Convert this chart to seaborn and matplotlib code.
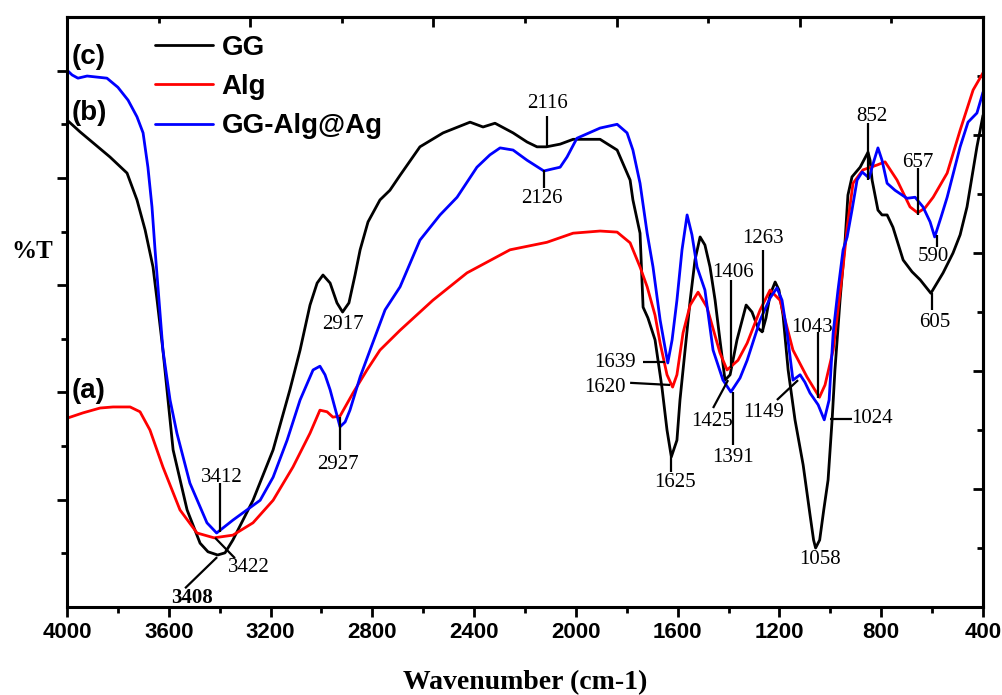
import numpy as np
import pandas as pd
import matplotlib
matplotlib.use("Agg")
import matplotlib.pyplot as plt
from matplotlib import font_manager
from matplotlib.ticker import MultipleLocator, FixedLocator, NullFormatter
import seaborn as sns

# GG (curve b)
gg_wn = [4000, 3949, 3831, 3764, 3725, 3693, 3662, 3646, 3623, 3583, 3528, 3477, 3446, 3408,
         3379, 3348, 3269, 3190, 3124, 3084, 3045, 3017, 2994, 2966, 2939, 2917, 2892, 2868,
         2848, 2817, 2770, 2731, 2691, 2613, 2522, 2416, 2365, 2318, 2247, 2192, 2153, 2116,
         2062, 2011, 1905, 1838, 1787, 1776, 1748, 1736, 1717, 1689, 1662, 1642, 1625, 1603,
         1591, 1571, 1551, 1532, 1512, 1493, 1473, 1453, 1434, 1414, 1394, 1367, 1331, 1308,
         1284, 1268, 1253, 1237, 1217, 1202, 1186, 1166, 1139, 1107, 1080, 1066, 1058, 1042,
         1026, 1009, 993, 982, 962, 942, 931, 915, 883, 852, 844, 836, 813, 797, 777, 754,
         714, 679, 647, 605, 557, 518, 490, 463, 424, 400]
gg_t = [90.8, 88.6, 83.9, 80.9, 75.9, 70.3, 63.4, 57.2, 47.9, 29.3, 18.1, 11.9, 10.3, 9.7,
        10.1, 12.5, 19.9, 29.3, 40.5, 47.9, 56.3, 60.4, 61.9, 60.4, 56.7, 55.0, 56.7, 61.9,
        66.6, 71.8, 75.9, 77.7, 80.5, 85.8, 88.4, 90.4, 89.5, 90.2, 88.4, 86.7, 85.8, 85.8,
        86.3, 87.2, 87.2, 85.2, 79.6, 75.9, 69.7, 55.9, 53.9, 49.8, 41.0, 33.0, 28.0, 31.1,
        38.6, 47.9, 57.2, 64.7, 69.0, 67.5, 63.4, 57.2, 49.8, 42.3, 43.3, 49.8, 56.3, 55.0,
        52.0, 51.3, 53.9, 58.2, 60.6, 59.1, 54.4, 44.2, 34.9, 26.5, 17.2, 12.5, 11.0, 12.5,
        18.1, 23.7, 35.0, 44.2, 57.2, 68.4, 76.8, 80.2, 82.0, 84.8, 83.3, 79.6, 74.0, 73.1,
        73.1, 70.8, 64.7, 62.5, 61.0, 58.5, 62.3, 66.0, 69.4, 74.6, 85.8, 91.7]

# Alg (curve a)
alg_wn = [4000, 3937, 3870, 3819, 3752, 3713, 3674, 3623, 3556, 3489, 3422, 3348, 3269, 3190,
          3112, 3045, 3006, 2978, 2955, 2927, 2876, 2821, 2770, 2691, 2562, 2428, 2259, 2114,
          2011, 1905, 1838, 1787, 1748, 1720, 1689, 1669, 1642, 1620, 1603, 1579, 1551, 1520,
          1485, 1434, 1406, 1363, 1327, 1276, 1237, 1198, 1147, 1092, 1043, 1021, 989, 950,
          934, 911, 872, 817, 785, 738, 687, 657, 628, 596, 541, 490, 439, 400]
alg_t = [35.2, 36.2, 37.1, 37.3, 37.3, 36.4, 33.0, 26.1, 18.1, 13.8, 12.9, 13.4, 15.7, 19.9,
         26.1, 32.4, 36.7, 36.4, 35.4, 35.6, 39.9, 44.2, 47.9, 51.6, 57.2, 62.3, 66.6, 68.0,
         69.7, 70.1, 69.9, 67.9, 63.4, 59.7, 54.4, 49.2, 43.3, 41.0, 43.3, 51.1, 56.3, 58.7,
         55.9, 47.4, 44.2, 46.0, 49.2, 55.4, 59.1, 57.2, 47.9, 42.9, 39.1, 41.4, 47.9, 63.4,
         70.8, 79.0, 81.5, 82.4, 83.0, 79.6, 74.6, 73.5, 74.4, 76.4, 80.9, 88.9, 96.4, 99.6]

# GG-Alg@Ag (curve c)
ag_wn = [4000, 3980, 3957, 3921, 3843, 3800, 3760, 3725, 3701, 3682, 3666, 3654, 3623, 3595,
         3568, 3517, 3450, 3412, 3348, 3293, 3241, 3190, 3135, 3084, 3033, 3006, 2986, 2966,
         2927, 2907, 2888, 2848, 2809, 2750, 2691, 2613, 2534, 2467, 2389, 2338, 2298, 2247,
         2192, 2126, 2090, 2062, 2035, 1996, 1905, 1838, 1799, 1776, 1748, 1720, 1697, 1669,
         1639, 1622, 1603, 1583, 1563, 1544, 1524, 1493, 1461, 1422, 1391, 1355, 1327, 1276,
         1237, 1210, 1190, 1170, 1147, 1119, 1100, 1080, 1048, 1024, 1005, 989, 970, 950,
         934, 915, 895, 875, 848, 828, 813, 797, 777, 746, 699, 667, 636, 608, 590, 565,
         541, 490, 459, 424, 400]
ag_t = [100.1, 99.2, 98.6, 99.0, 98.6, 96.9, 94.5, 91.4, 88.4, 82.0, 74.6, 66.6, 47.9, 38.6,
        32.4, 23.1, 15.7, 13.8, 16.2, 18.1, 19.9, 24.2, 31.1, 38.6, 44.2, 44.9, 43.3, 40.5,
        33.6, 34.5, 36.7, 42.9, 47.9, 55.4, 59.7, 68.4, 73.1, 76.4, 82.0, 84.3, 85.6, 85.2,
        83.3, 81.3, 81.7, 82.0, 83.9, 87.4, 89.3, 90.0, 88.4, 85.2, 79.0, 69.7, 63.4, 53.5,
        45.5, 49.8, 57.2, 66.6, 73.1, 69.4, 63.4, 59.1, 47.9, 42.3, 40.1, 42.7, 46.0, 53.5,
        57.6, 59.5, 57.2, 51.1, 42.3, 43.3, 41.9, 39.9, 37.7, 34.9, 38.6, 51.1, 59.1, 66.6,
        69.0, 74.0, 79.6, 81.1, 80.0, 83.3, 85.6, 83.3, 79.0, 77.7, 76.2, 76.4, 74.6, 71.8,
        69.0, 72.7, 76.4, 85.8, 90.4, 92.1, 96.0]

series_names = ["GG", "Alg", "GG-Alg@Ag"]
series_colors = ["black", "red", "blue"]

# peak labels
peak_labels = ["3408", "3422", "3412", "2927", "2917", "2116", "2126", "1639", "1620", "1625",
               "1406", "1425", "1391", "1263", "1149", "1043", "1058", "1024", "852", "657",
               "590", "605"]
peak_text_x = [3509, 3285, 3391, 2935, 2915, 2110, 2133, 1846, 1886, 1610, 1383, 1465, 1383,
               1265, 1261, 1072, 1041, 836, 836, 655, 596, 589]
peak_text_y = [1.7, 7.3, 24.2, 26.5, 52.6, 93.8, 76.1, 45.5, 41.0, 23.3, 62.3, 34.5, 27.8,
               68.8, 36.2, 52.2, 8.8, 35.2, 91.4, 82.8, 65.3, 53.1]
leader_x0 = [3410, 3418, 3399, 2927, np.nan, 2114, 2126, 1736, 1787, 1625, 1390, 1461, 1383,
             1265, 1210, 1048, np.nan, 1001, 852, 655, 581, 600]
leader_y0 = [9.3, 12.9, 23.1, 35.4, np.nan, 91.5, 81.5, 45.7, 41.8, 28.0, 61.0, 37.1, 40.1,
             66.6, 38.6, 51.3, np.nan, 35.0, 90.2, 81.8, 69.4, 58.5]
leader_x1 = [3536, 3340, 3399, 2927, np.nan, 2114, 2126, 1650, 1630, 1625, 1390, 1402, 1383,
             1265, 1127, 1048, np.nan, 915, 852, 655, 581, 600]
leader_y1 = [3.5, 9.1, 14.0, 29.3, np.nan, 85.9, 78.1, 45.7, 41.4, 25.2, 44.6, 42.3, 30.2,
             51.3, 42.3, 39.0, np.nan, 35.0, 79.6, 73.1, 67.1, 55.4]

curve_tags = ["(c)", "(b)", "(a)"]
curve_tag_y = [102.5, 92.1, 40.3]

sns.set_style("ticks")
installed = set(font_manager.get_font_names())
tick_font = "Liberation Sans Narrow" if "Liberation Sans Narrow" in installed else "Liberation Sans"
plt.rcParams['font.family'] = ['Liberation Sans', 'DejaVu Sans']
for key in ["text.color", "axes.labelcolor", "xtick.color", "ytick.color", "axes.edgecolor"]:
    plt.rcParams[key] = "black"

df = pd.concat([
    pd.DataFrame({"wn": gg_wn, "T": gg_t, "sample": "GG"}),
    pd.DataFrame({"wn": alg_wn, "T": alg_t, "sample": "Alg"}),
    pd.DataFrame({"wn": ag_wn, "T": ag_t, "sample": "GG-Alg@Ag"}),
], ignore_index=True)

fig = plt.figure(figsize=(10.03, 6.95), dpi=100)
ax = fig.add_axes([0.0668, 0.1266, 0.9133, 0.8489])

sns.lineplot(data=df, x="wn", y="T", hue="sample", hue_order=series_names,
             palette=dict(zip(series_names, series_colors)), sort=False,
             estimator=None, linewidth=2.0, ax=ax)

ax.set_xlim(4000, 400)
ax.set_ylim(0, 110)

# bottom / left axes
ax.xaxis.set_major_locator(MultipleLocator(400))
ax.xaxis.set_minor_locator(MultipleLocator(200))
ax.yaxis.set_major_locator(FixedLocator([20, 40, 60, 80, 100]))
ax.yaxis.set_minor_locator(FixedLocator([10, 30, 50, 70, 90]))
ax.yaxis.set_major_formatter(NullFormatter())
ax.tick_params(which="major", direction="out", length=7, width=2, pad=4)
ax.tick_params(which="minor", direction="out", length=4, width=2)
ax.tick_params(axis="x", labelsize=16)
for lab in ax.get_xticklabels():
    lab.set_fontfamily(tick_font)
    lab.set_fontweight("bold")
for sp in ax.spines.values():
    sp.set_linewidth(2.2)

# top / right axes (own divisions, ticks inside)
secx = ax.secondary_xaxis("top")
secx.xaxis.set_major_locator(FixedLocator([4000 - 720 * k for k in range(6)]))
secx.xaxis.set_minor_locator(FixedLocator([3640 - 720 * k for k in range(5)]))
secx.xaxis.set_major_formatter(NullFormatter())
secx.tick_params(which="major", direction="in", length=7, width=2)
secx.tick_params(which="minor", direction="in", length=4, width=2)
secx.spines["top"].set_linewidth(2.2)

secy = ax.secondary_yaxis("right")
secy.yaxis.set_major_locator(FixedLocator([0, 22, 44, 66, 88, 110]))
secy.yaxis.set_minor_locator(FixedLocator([11, 33, 55, 77, 99]))
secy.yaxis.set_major_formatter(NullFormatter())
secy.tick_params(which="major", direction="in", length=7, width=2)
secy.tick_params(which="minor", direction="in", length=4, width=2)
secy.spines["right"].set_linewidth(2.2)

ax.set_xlabel("Wavenumber (cm-1)", fontfamily="Liberation Serif", fontweight="bold",
              fontsize=20, labelpad=19)
ax.set_ylabel("")
fig.text(32 / 1003, 1 - 252 / 695, "%T", fontfamily="Liberation Serif", fontweight="bold",
         fontsize=18, ha="center", va="center")

# peak positions
for i, lab in enumerate(peak_labels):
    if not np.isnan(leader_x0[i]):
        ax.plot([leader_x0[i], leader_x1[i]], [leader_y0[i], leader_y1[i]],
                color="black", lw=1.6, solid_capstyle="butt")
    ax.text(peak_text_x[i], peak_text_y[i], lab, fontfamily="Liberation Serif",
            fontsize=15, fontweight="bold" if lab == "3408" else "normal",
            ha="center", va="center")

for tag, ty in zip(curve_tags, curve_tag_y):
    ax.text(3980, ty, tag, fontsize=20, fontweight="bold", ha="left", va="center")

handles, labels = ax.get_legend_handles_labels()
ax.legend(handles, labels, loc="upper left", bbox_to_anchor=(0.1545, 0.950),
          bbox_transform=fig.transFigure, frameon=False, prop={"size": 20, "weight": "bold"},
          handlelength=2.1, handletextpad=0.3, labelspacing=0.48, borderpad=0,
          borderaxespad=0)

plt.savefig("out.png", dpi=100)
